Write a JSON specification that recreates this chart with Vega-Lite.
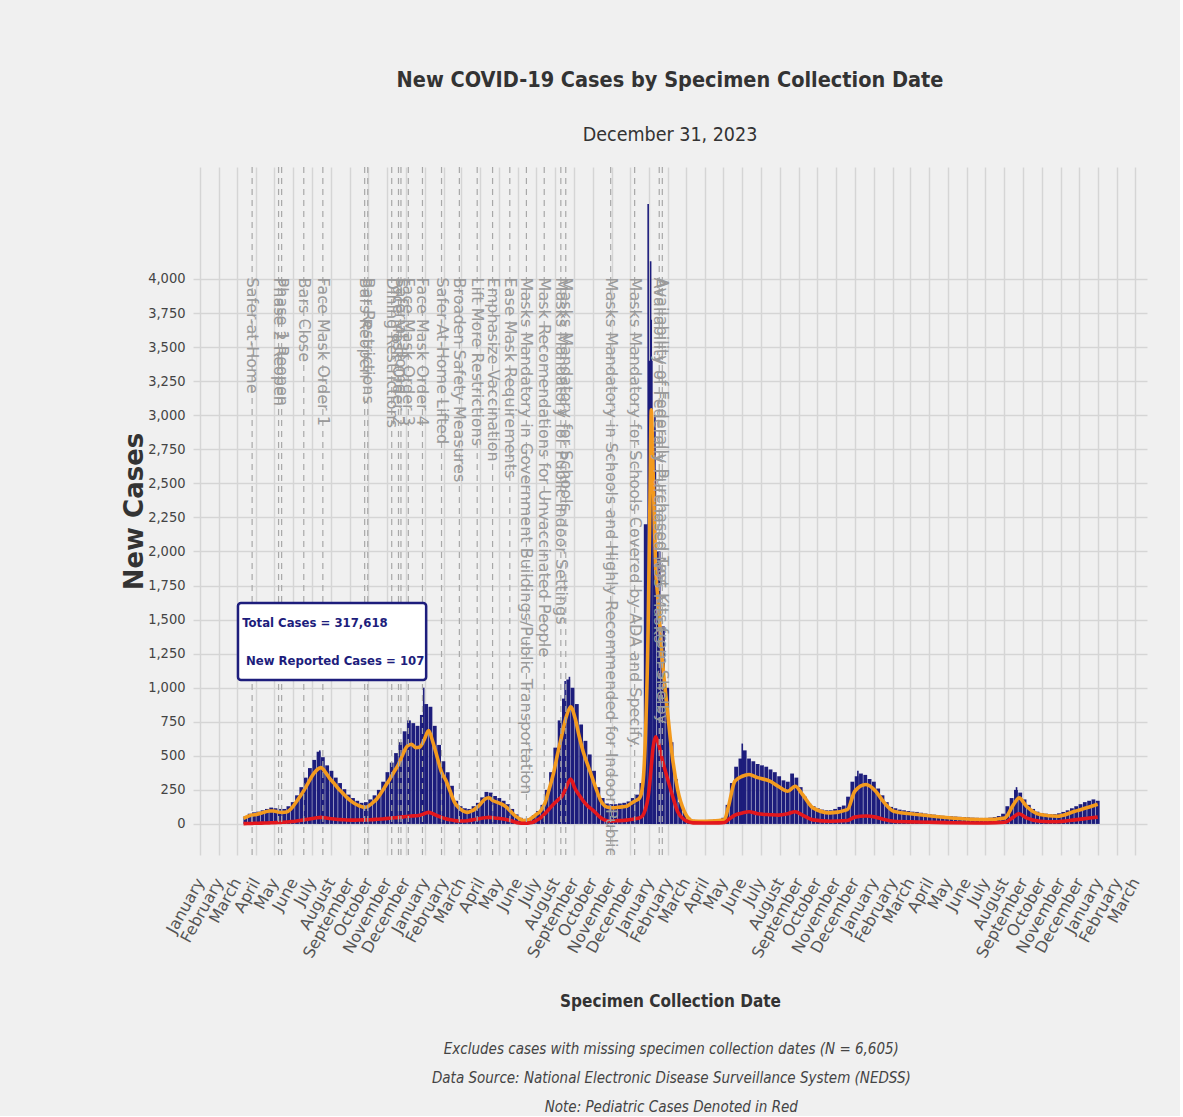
{
  "$schema": "https://vega.github.io/schema/vega-lite/v6.json",
  "background": "#f0f0f0",
  "padding": {"left": 121, "top": 70, "right": 33, "bottom": 0},
  "datasets": {
    "bars": [
      {"d":"2020-03-15","c":55},{"d":"2020-03-22","c":75},{"d":"2020-03-29","c":85},{"d":"2020-04-05","c":90},{"d":"2020-04-12","c":100},{"d":"2020-04-19","c":110},{"d":"2020-04-26","c":120},{"d":"2020-05-03","c":115},{"d":"2020-05-10","c":110},{"d":"2020-05-17","c":110},{"d":"2020-05-24","c":130},{"d":"2020-05-31","c":160},{"d":"2020-06-07","c":210},{"d":"2020-06-14","c":270},{"d":"2020-06-21","c":340},{"d":"2020-06-28","c":410},{"d":"2020-07-05","c":470},{"d":"2020-07-12","c":530},{"d":"2020-07-19","c":490},{"d":"2020-07-26","c":430},{"d":"2020-08-02","c":390},{"d":"2020-08-09","c":340},{"d":"2020-08-16","c":300},{"d":"2020-08-23","c":255},{"d":"2020-08-30","c":215},{"d":"2020-09-06","c":190},{"d":"2020-09-13","c":170},{"d":"2020-09-20","c":155},{"d":"2020-09-27","c":160},{"d":"2020-10-04","c":180},{"d":"2020-10-11","c":210},{"d":"2020-10-18","c":250},{"d":"2020-10-25","c":310},{"d":"2020-11-01","c":380},{"d":"2020-11-08","c":450},{"d":"2020-11-15","c":520},{"d":"2020-11-22","c":600},{"d":"2020-11-29","c":680},{"d":"2020-12-06","c":760},{"d":"2020-12-13","c":740},{"d":"2020-12-20","c":720},{"d":"2020-12-27","c":800},
      {"d":"2021-01-03","c":880},{"d":"2021-01-10","c":860},{"d":"2021-01-17","c":720},{"d":"2021-01-24","c":580},{"d":"2021-01-31","c":460},{"d":"2021-02-07","c":380},{"d":"2021-02-14","c":280},{"d":"2021-02-21","c":170},{"d":"2021-02-28","c":130},{"d":"2021-03-07","c":115},{"d":"2021-03-14","c":110},{"d":"2021-03-21","c":130},{"d":"2021-03-28","c":155},{"d":"2021-04-04","c":195},{"d":"2021-04-11","c":235},{"d":"2021-04-18","c":230},{"d":"2021-04-25","c":205},{"d":"2021-05-02","c":190},{"d":"2021-05-09","c":170},{"d":"2021-05-16","c":145},{"d":"2021-05-23","c":110},{"d":"2021-05-30","c":70},{"d":"2021-06-06","c":45},{"d":"2021-06-13","c":35},{"d":"2021-06-20","c":40},{"d":"2021-06-27","c":65},{"d":"2021-07-04","c":95},{"d":"2021-07-11","c":140},{"d":"2021-07-18","c":250},{"d":"2021-07-25","c":380},{"d":"2021-08-01","c":560},{"d":"2021-08-08","c":760},{"d":"2021-08-15","c":920},{"d":"2021-08-22","c":1060},{"d":"2021-08-29","c":1000},{"d":"2021-09-05","c":880},{"d":"2021-09-12","c":730},{"d":"2021-09-19","c":610},{"d":"2021-09-26","c":510},{"d":"2021-10-03","c":390},{"d":"2021-10-10","c":270},{"d":"2021-10-17","c":190},{"d":"2021-10-24","c":150},{"d":"2021-10-31","c":145},{"d":"2021-11-07","c":145},{"d":"2021-11-14","c":150},{"d":"2021-11-21","c":155},{"d":"2021-11-28","c":165},{"d":"2021-12-05","c":190},{"d":"2021-12-12","c":215},{"d":"2021-12-19","c":300},{"d":"2021-12-26","c":2200},
      {"d":"2022-01-02","c":3400},{"d":"2022-01-09","c":2600},{"d":"2022-01-16","c":2000},{"d":"2022-01-23","c":1450},{"d":"2022-01-30","c":1000},{"d":"2022-02-06","c":600},{"d":"2022-02-13","c":330},{"d":"2022-02-20","c":160},{"d":"2022-02-27","c":85},{"d":"2022-03-06","c":45},{"d":"2022-03-13","c":30},{"d":"2022-03-20","c":28},{"d":"2022-03-27","c":28},{"d":"2022-04-03","c":28},{"d":"2022-04-10","c":30},{"d":"2022-04-17","c":32},{"d":"2022-04-24","c":36},{"d":"2022-05-01","c":45},{"d":"2022-05-08","c":140},{"d":"2022-05-15","c":300},{"d":"2022-05-22","c":420},{"d":"2022-05-29","c":480},{"d":"2022-06-05","c":540},{"d":"2022-06-12","c":480},{"d":"2022-06-19","c":460},{"d":"2022-06-26","c":440},{"d":"2022-07-03","c":430},{"d":"2022-07-10","c":420},{"d":"2022-07-17","c":400},{"d":"2022-07-24","c":380},{"d":"2022-07-31","c":350},{"d":"2022-08-07","c":320},{"d":"2022-08-14","c":310},{"d":"2022-08-21","c":370},{"d":"2022-08-28","c":340},{"d":"2022-09-04","c":270},{"d":"2022-09-11","c":200},{"d":"2022-09-18","c":150},{"d":"2022-09-25","c":130},{"d":"2022-10-02","c":115},{"d":"2022-10-09","c":105},{"d":"2022-10-16","c":100},{"d":"2022-10-23","c":100},{"d":"2022-10-30","c":110},{"d":"2022-11-06","c":125},{"d":"2022-11-13","c":135},{"d":"2022-11-20","c":200},{"d":"2022-11-27","c":310},{"d":"2022-12-04","c":350},{"d":"2022-12-11","c":370},{"d":"2022-12-18","c":360},{"d":"2022-12-25","c":330},
      {"d":"2023-01-01","c":310},{"d":"2023-01-08","c":260},{"d":"2023-01-15","c":210},{"d":"2023-01-22","c":160},{"d":"2023-01-29","c":125},{"d":"2023-02-05","c":115},{"d":"2023-02-12","c":105},{"d":"2023-02-19","c":100},{"d":"2023-02-26","c":95},{"d":"2023-03-05","c":90},{"d":"2023-03-12","c":88},{"d":"2023-03-19","c":82},{"d":"2023-03-26","c":76},{"d":"2023-04-02","c":72},{"d":"2023-04-09","c":68},{"d":"2023-04-16","c":64},{"d":"2023-04-23","c":60},{"d":"2023-04-30","c":58},{"d":"2023-05-07","c":56},{"d":"2023-05-14","c":54},{"d":"2023-05-21","c":52},{"d":"2023-05-28","c":50},{"d":"2023-06-04","c":48},{"d":"2023-06-11","c":46},{"d":"2023-06-18","c":45},{"d":"2023-06-25","c":44},{"d":"2023-07-02","c":44},{"d":"2023-07-09","c":46},{"d":"2023-07-16","c":50},{"d":"2023-07-23","c":58},{"d":"2023-07-30","c":75},{"d":"2023-08-06","c":130},{"d":"2023-08-13","c":190},{"d":"2023-08-20","c":250},{"d":"2023-08-27","c":230},{"d":"2023-09-03","c":180},{"d":"2023-09-10","c":140},{"d":"2023-09-17","c":110},{"d":"2023-09-24","c":90},{"d":"2023-10-01","c":80},{"d":"2023-10-08","c":75},{"d":"2023-10-15","c":72},{"d":"2023-10-22","c":72},{"d":"2023-10-29","c":78},{"d":"2023-11-05","c":88},{"d":"2023-11-12","c":100},{"d":"2023-11-19","c":115},{"d":"2023-11-26","c":130},{"d":"2023-12-03","c":145},{"d":"2023-12-10","c":160},{"d":"2023-12-17","c":170},{"d":"2023-12-24","c":180},{"d":"2023-12-31","c":170}
    ],
    "spikes": [
      {"d":"2020-07-14","c":540},{"d":"2020-12-30","c":1000},{"d":"2021-08-17","c":1050},{"d":"2021-08-24","c":1080},{"d":"2021-12-30","c":4550},{"d":"2022-01-03","c":4130},{"d":"2022-01-04","c":3700},{"d":"2022-01-05","c":3400},{"d":"2022-01-10","c":3000},{"d":"2022-06-01","c":590},{"d":"2022-12-06","c":390},{"d":"2023-08-21","c":270}
    ],
    "lines": [
      {"d":"2020-03-12","a":40,"p":2},{"d":"2020-03-19","a":55,"p":3},{"d":"2020-03-26","a":65,"p":4},{"d":"2020-04-02","a":70,"p":5},{"d":"2020-04-09","a":78,"p":6},{"d":"2020-04-16","a":88,"p":7},{"d":"2020-04-23","a":95,"p":8},{"d":"2020-04-30","a":95,"p":9},{"d":"2020-05-07","a":88,"p":10},{"d":"2020-05-14","a":85,"p":12},{"d":"2020-05-21","a":88,"p":14},{"d":"2020-05-28","a":110,"p":17},{"d":"2020-06-04","a":150,"p":20},{"d":"2020-06-11","a":195,"p":25},{"d":"2020-06-18","a":245,"p":30},{"d":"2020-06-25","a":300,"p":35},{"d":"2020-07-02","a":355,"p":40},{"d":"2020-07-09","a":395,"p":45},{"d":"2020-07-16","a":413,"p":48},{"d":"2020-07-23","a":380,"p":45},{"d":"2020-07-30","a":335,"p":40},{"d":"2020-08-06","a":300,"p":36},{"d":"2020-08-13","a":260,"p":33},{"d":"2020-08-20","a":228,"p":31},{"d":"2020-08-27","a":195,"p":29},{"d":"2020-09-03","a":168,"p":28},{"d":"2020-09-10","a":146,"p":28},{"d":"2020-09-17","a":132,"p":29},{"d":"2020-09-24","a":121,"p":30},{"d":"2020-10-01","a":130,"p":31},{"d":"2020-10-08","a":155,"p":32},{"d":"2020-10-15","a":185,"p":34},{"d":"2020-10-22","a":230,"p":36},{"d":"2020-10-29","a":280,"p":39},{"d":"2020-11-05","a":330,"p":42},{"d":"2020-11-12","a":385,"p":45},{"d":"2020-11-19","a":437,"p":48},{"d":"2020-11-26","a":510,"p":52},{"d":"2020-12-03","a":570,"p":55},{"d":"2020-12-10","a":585,"p":58},{"d":"2020-12-17","a":560,"p":60},{"d":"2020-12-24","a":565,"p":64},{"d":"2020-12-31","a":620,"p":75},
      {"d":"2021-01-07","a":685,"p":85},{"d":"2021-01-14","a":600,"p":75},{"d":"2021-01-21","a":490,"p":60},{"d":"2021-01-28","a":380,"p":48},{"d":"2021-02-04","a":320,"p":38},{"d":"2021-02-11","a":240,"p":30},{"d":"2021-02-18","a":160,"p":25},{"d":"2021-02-25","a":118,"p":22},{"d":"2021-03-04","a":95,"p":22},{"d":"2021-03-11","a":85,"p":24},{"d":"2021-03-18","a":95,"p":28},{"d":"2021-03-25","a":115,"p":34},{"d":"2021-04-01","a":145,"p":40},{"d":"2021-04-08","a":180,"p":45},{"d":"2021-04-15","a":192,"p":48},{"d":"2021-04-22","a":170,"p":45},{"d":"2021-04-29","a":158,"p":42},{"d":"2021-05-06","a":145,"p":38},{"d":"2021-05-13","a":125,"p":32},{"d":"2021-05-20","a":95,"p":25},{"d":"2021-05-27","a":62,"p":14},{"d":"2021-06-03","a":40,"p":7},{"d":"2021-06-10","a":25,"p":5},{"d":"2021-06-17","a":28,"p":6},{"d":"2021-06-24","a":45,"p":10},{"d":"2021-07-01","a":70,"p":25},{"d":"2021-07-08","a":95,"p":45},{"d":"2021-07-15","a":150,"p":75},{"d":"2021-07-22","a":255,"p":110},{"d":"2021-07-29","a":370,"p":145},{"d":"2021-08-05","a":520,"p":175},{"d":"2021-08-12","a":660,"p":205},{"d":"2021-08-19","a":790,"p":270},{"d":"2021-08-26","a":860,"p":330},{"d":"2021-09-02","a":780,"p":260},{"d":"2021-09-09","a":640,"p":210},{"d":"2021-09-16","a":520,"p":165},{"d":"2021-09-23","a":430,"p":130},{"d":"2021-09-30","a":340,"p":105},{"d":"2021-10-07","a":250,"p":75},{"d":"2021-10-14","a":170,"p":45},{"d":"2021-10-21","a":130,"p":28},{"d":"2021-10-28","a":120,"p":22},{"d":"2021-11-04","a":118,"p":22},{"d":"2021-11-11","a":122,"p":24},{"d":"2021-11-18","a":125,"p":25},{"d":"2021-11-25","a":130,"p":28},{"d":"2021-12-02","a":150,"p":32},{"d":"2021-12-09","a":170,"p":38},{"d":"2021-12-16","a":190,"p":45},{"d":"2021-12-21","a":280,"p":60},{"d":"2021-12-25","a":575,"p":100},{"d":"2021-12-30","a":1450,"p":200},
      {"d":"2022-01-02","a":2400,"p":320},{"d":"2022-01-04","a":3040,"p":420},{"d":"2022-01-07","a":2600,"p":560},{"d":"2022-01-11","a":1900,"p":640},{"d":"2022-01-15","a":1650,"p":600},{"d":"2022-01-22","a":1210,"p":470},{"d":"2022-01-30","a":845,"p":340},{"d":"2022-02-08","a":470,"p":200},{"d":"2022-02-16","a":250,"p":90},{"d":"2022-02-27","a":90,"p":30},{"d":"2022-03-06","a":40,"p":15},{"d":"2022-03-13","a":22,"p":8},{"d":"2022-04-01","a":20,"p":7},{"d":"2022-04-24","a":25,"p":8},{"d":"2022-05-03","a":30,"p":10},{"d":"2022-05-09","a":118,"p":30},{"d":"2022-05-20","a":314,"p":65},{"d":"2022-06-01","a":350,"p":80},{"d":"2022-06-12","a":363,"p":90},{"d":"2022-06-26","a":340,"p":75},{"d":"2022-07-16","a":314,"p":68},{"d":"2022-07-30","a":275,"p":65},{"d":"2022-08-14","a":240,"p":75},{"d":"2022-08-26","a":277,"p":90},{"d":"2022-09-07","a":216,"p":65},{"d":"2022-09-24","a":118,"p":30},{"d":"2022-10-22","a":81,"p":20},{"d":"2022-11-19","a":105,"p":25},{"d":"2022-12-01","a":240,"p":50},{"d":"2022-12-19","a":289,"p":58},
      {"d":"2023-01-04","a":240,"p":50},{"d":"2023-01-16","a":167,"p":35},{"d":"2023-02-02","a":93,"p":20},{"d":"2023-03-13","a":69,"p":14},{"d":"2023-05-07","a":44,"p":9},{"d":"2023-07-03","a":32,"p":7},{"d":"2023-08-02","a":44,"p":12},{"d":"2023-08-16","a":142,"p":50},{"d":"2023-08-25","a":191,"p":75},{"d":"2023-09-06","a":130,"p":45},{"d":"2023-09-28","a":69,"p":20},{"d":"2023-10-26","a":56,"p":16},{"d":"2023-11-24","a":93,"p":30},{"d":"2023-12-21","a":130,"p":45},{"d":"2023-12-31","a":145,"p":50}
    ],
    "events": [
      {"d":"2020-03-26","t":"Safer-at-Home"},
      {"d":"2020-05-08","t":"Phase 2 Reopen"},
      {"d":"2020-05-13","t":"Phase 1 Reopen"},
      {"d":"2020-06-18","t":"Bars Close"},
      {"d":"2020-07-19","t":"Face Mask Order 1"},
      {"d":"2020-09-25","t":"Bars Reopen"},
      {"d":"2020-09-30","t":"Bar Restrictions"},
      {"d":"2020-11-08","t":"Dining Restrictions"},
      {"d":"2020-11-19","t":"Face Mask Order 2"},
      {"d":"2020-11-23","t":"Safer-at-Home"},
      {"d":"2020-12-05","t":"Face Mask Order 3"},
      {"d":"2020-12-28","t":"Face Mask Order 4"},
      {"d":"2021-01-28","t":"Safer-At-Home Lifted"},
      {"d":"2021-02-26","t":"Broaden Safety Measures"},
      {"d":"2021-03-27","t":"Lift More Restrictions"},
      {"d":"2021-04-21","t":"Emphasize Vaccination"},
      {"d":"2021-05-19","t":"Ease Mask Requirements"},
      {"d":"2021-06-15","t":"Masks Mandatory in Government Buildings/Public Transportation"},
      {"d":"2021-07-14","t":"Mask Recomendations for Unvaccinated People"},
      {"d":"2021-08-10","t":"Masks Mandatory for Public Indoor Settings"},
      {"d":"2021-08-18","t":"Masks Mandatory for Schools"},
      {"d":"2021-10-30","t":"Masks Mandatory in Schools and Highly Recommended for Indoor Public Settings"},
      {"d":"2021-12-08","t":"Masks Mandatory for Schools Covered by ADA and Specify."},
      {"d":"2022-01-17","t":"Availability of Federally Purchased N95 Masks"},
      {"d":"2022-01-22","t":"Availability of Federally Purchased Test Kits from Shelby"}
    ]
  },
  "title": {
    "text": ["Excludes cases with missing specimen collection dates (N = 6,605)", "Data Source: National Electronic Disease Surveillance System (NEDSS)", "Note: Pediatric Cases Denoted in Red"],
    "orient": "bottom",
    "anchor": "middle",
    "font": "DejaVu Sans Condensed, Liberation Sans, sans-serif",
    "fontStyle": "italic",
    "fontWeight": "normal",
    "fontSize": 15,
    "color": "#444444",
    "lineHeight": 29,
    "offset": 33,
    "dx": 37
  },
  "vconcat": [
    {
      "width": 954,
      "height": 688,
      "title": {
        "text": "New COVID-19 Cases by Specimen Collection Date",
        "subtitle": "December 31, 2023",
        "anchor": "middle",
        "frame": "group",
        "font": "DejaVu Sans Condensed, Liberation Sans, sans-serif",
        "fontSize": 21.5,
        "fontWeight": "bold",
        "color": "#333333",
        "subtitleFont": "DejaVu Sans Condensed, Liberation Sans, sans-serif",
        "subtitleFontSize": 19.5,
        "subtitleColor": "#333333",
        "subtitlePadding": 34,
        "offset": 22
      },
      "layer": [
        {
          "data": {"name": "bars"},
          "mark": {"type": "bar", "color": "#1d1d7c", "width": 3.8},
          "encoding": {
            "x": {
              "field": "d", "type": "temporal",
              "scale": {"type": "utc", "domain": [{"year": 2019, "month": 12, "date": 29, "utc": true}, {"year": 2024, "month": 3, "date": 12, "utc": true}]},
              "axis": {
                "title": "Specimen Collection Date",
                "titleFont": "DejaVu Sans Condensed, Liberation Sans, sans-serif",
                "titleFontSize": 17,
                "titleFontWeight": "bold",
                "titleColor": "#333333",
                "titlePadding": 33,
                "format": "%B",
                "tickCount": {"interval": "month", "step": 1},
                "labelAngle": -61,
                "labelAlign": "right",
                "labelBaseline": "middle",
                "labelFont": "DejaVu Sans",
                "labelFontSize": 16,
                "labelColor": "#555555",
                "labelPadding": 24,
                "labelOverlap": false,
                "labelBound": false,
                "labelFlush": false,
                "grid": true
              }
            },
            "y": {
              "field": "c", "type": "quantitative",
              "scale": {"domain": [-228, 4822], "nice": false, "zero": false},
              "axis": {
                "title": "New Cases",
                "values": [0,250,500,750,1000,1250,1500,1750,2000,2250,2500,2750,3000,3250,3500,3750,4000],
                "format": ",d",
                "labelFont": "DejaVu Sans Condensed, Liberation Sans, sans-serif",
                "labelFontSize": 14.5,
                "labelColor": "#444444",
                "labelPadding": 8,
                "titleFont": "DejaVu Sans",
                "titleFontSize": 26,
                "titleFontWeight": "bold",
                "titleColor": "#333333",
                "titlePadding": 0
              }
            }
          }
        },
        {
          "data": {"name": "spikes"},
          "mark": {"type": "bar", "color": "#1d1d7c", "width": 1.6},
          "encoding": {
            "x": {"field": "d", "type": "temporal", "title": "Specimen Collection Date"},
            "y": {"field": "c", "type": "quantitative", "title": "New Cases"}
          }
        },
        {
          "data": {"name": "lines"},
          "mark": {"type": "line", "color": "#f39a1e", "strokeWidth": 3.6, "interpolate": "monotone"},
          "encoding": {
            "x": {"field": "d", "type": "temporal", "title": "Specimen Collection Date"},
            "y": {"field": "a", "type": "quantitative", "title": "New Cases"}
          }
        },
        {
          "data": {"name": "lines"},
          "mark": {"type": "line", "color": "#e3171d", "strokeWidth": 3.6, "interpolate": "monotone"},
          "encoding": {
            "x": {"field": "d", "type": "temporal", "title": "Specimen Collection Date"},
            "y": {"field": "p", "type": "quantitative", "title": "New Cases"}
          }
        },
        {
          "data": {"name": "events"},
          "mark": {"type": "rule", "color": "#a8a8a8", "strokeWidth": 1.2, "strokeDash": [6, 5]},
          "encoding": {
            "x": {"field": "d", "type": "temporal", "title": "Specimen Collection Date"}
          }
        },
        {
          "data": {"name": "events"},
          "mark": {"type": "text", "angle": 90, "align": "left", "baseline": "middle", "font": "DejaVu Sans", "fontSize": 16, "color": "#9a9a9a", "clip": true},
          "encoding": {
            "x": {"field": "d", "type": "temporal", "title": "Specimen Collection Date"},
            "y": {"datum": 4010, "type": "quantitative"},
            "text": {"field": "t"}
          }
        },
        {
          "data": {"values": [{"k": 1}]},
          "mark": {"type": "rect", "fill": "#ffffff", "stroke": "#1d1d7c", "strokeWidth": 2.5, "cornerRadius": 3},
          "encoding": {
            "x": {"datum": {"year": 2020, "month": 3, "date": 3, "utc": true}, "type": "temporal"},
            "x2": {"datum": {"year": 2021, "month": 1, "date": 3, "utc": true}},
            "y": {"datum": 1622, "type": "quantitative"},
            "y2": {"datum": 1057}
          }
        },
        {
          "data": {"values": [{"k": 1}]},
          "mark": {"type": "text", "text": "Total Cases = 317,618", "align": "left", "baseline": "middle", "font": "DejaVu Sans Condensed, Liberation Sans, sans-serif", "fontWeight": "bold", "fontSize": 13, "color": "#1d1d7c"},
          "encoding": {
            "x": {"datum": {"year": 2020, "month": 3, "date": 10, "utc": true}, "type": "temporal"},
            "y": {"datum": 1475, "type": "quantitative"}
          }
        },
        {
          "data": {"values": [{"k": 1}]},
          "mark": {"type": "text", "text": "New Reported Cases = 107", "align": "left", "baseline": "middle", "font": "DejaVu Sans Condensed, Liberation Sans, sans-serif", "fontWeight": "bold", "fontSize": 13, "color": "#1d1d7c"},
          "encoding": {
            "x": {"datum": {"year": 2020, "month": 3, "date": 16, "utc": true}, "type": "temporal"},
            "y": {"datum": 1196, "type": "quantitative"}
          }
        }
      ]
    }
  ],
  "config": {
    "view": {"stroke": null},
    "axis": {"domain": false, "ticks": false, "gridColor": "#d5d5d5", "gridWidth": 1.5},
    "font": "Liberation Sans"
  }
}
